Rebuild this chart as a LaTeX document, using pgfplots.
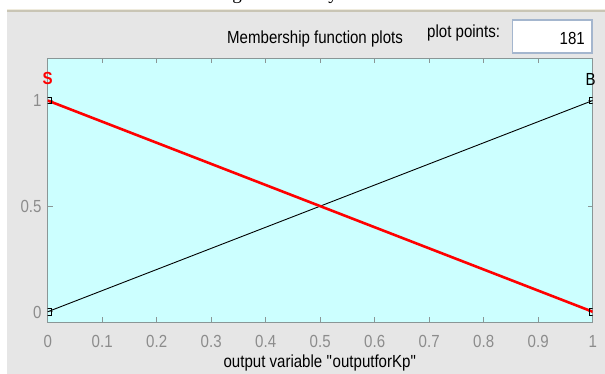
\documentclass[border=0pt]{standalone}
\usepackage{fontspec}
\setmainfont{Liberation Sans}[FakeStretch=0.86]
\newfontfamily\serifcap{Liberation Serif}
\usepackage{pgfplots}
\pgfplotsset{compat=1.18}
\definecolor{panel}{HTML}{E6E6E6}
\definecolor{cyanbg}{HTML}{CCFFFF}
\definecolor{axgray}{HTML}{8A9696}
\definecolor{tickgray}{HTML}{8C8C8C}
\definecolor{boxborder}{HTML}{A4B6CE}
\definecolor{beigeA}{HTML}{EFEBDD}
\definecolor{beigeB}{HTML}{C9C5B5}
\begin{document}
\begin{tikzpicture}[x=1pt,y=1pt]
\useasboundingbox (0,0) rectangle (605,374);
\fill[white] (0,0) rectangle (605,374);
\fill[panel] (7,0) rectangle (605,362);
\fill[beigeB] (7,362) rectangle (605,363.5);
\fill[beigeA] (7,363.5) rectangle (605,365);
\begin{scope}
\clip (0,365) rectangle (605,374);
\node[anchor=base,inner sep=0pt,font=\serifcap\fontsize{19}{20}\selectfont] at (237,374.5) {g};
\node[anchor=base,inner sep=0pt,font=\serifcap\fontsize{19}{20}\selectfont] at (333,374.5) {y};
\end{scope}
\node[anchor=base west,inner sep=0pt,font=\fontsize{17.5}{20}\selectfont] at (227,330) {Membership function plots};
\node[anchor=base west,inner sep=0pt,font=\fontsize{17.5}{20}\selectfont] at (427,336) {plot points:};
\draw[boxborder,line width=1.2pt,fill=white] (512.5,321) rectangle (592,354);
\node[anchor=base east,inner sep=0pt,font=\fontsize{17.5}{20}\selectfont] at (585,329) {181};
\begin{axis}[
  at={(47.7pt,51.7pt)}, anchor=south west,
  scale only axis, width=545pt, height=264pt,
  xmin=0, xmax=1, ymin=-0.05, ymax=1.2,
  axis background/.style={fill=cyanbg},
  axis line style={axgray, line width=1pt},
  xtick={0,0.1,0.2,0.3,0.4,0.5,0.6,0.7,0.8,0.9,1},
  xticklabels={0,0.1,0.2,0.3,0.4,0.5,0.6,0.7,0.8,0.9,1},
  ytick={0,0.5,1},
  yticklabels={0,0.5,1},
  tick align=inside,
  major tick length=5pt,
  tick style={axgray, line width=0.8pt},
  xtick pos=both, ytick pos=both,
  ticklabel style={font=\fontsize{17.5}{20}\selectfont, text=tickgray, inner sep=0pt},
  xticklabel style={anchor=base, yshift=-25pt},
  yticklabel style={anchor=base east, xshift=-6pt, yshift=-6.4pt},
  /pgf/number format/assume math mode=true,
  clip=true, clip marker paths=true,
  xlabel={output variable \textquotedbl outputforKp\textquotedbl},
  xlabel style={font=\fontsize{17.5}{20}\selectfont, anchor=base, at={(axis description cs:0.5,0)}, yshift=-45pt, inner sep=0pt},
]
\addplot[black, line width=0.9pt] coordinates {(0,0) (1,1)};
\addplot[red, line width=2.6pt] coordinates {(0,1) (1,0)};
\addplot[only marks, mark=square, mark size=3.3pt, black, mark options={line width=0.9pt}] coordinates {(0,1) (1,0) (0,0) (1,1)};
\end{axis}
\begin{axis}[
  at={(47.7pt,51.7pt)}, anchor=south west,
  scale only axis, width=545pt, height=264pt,
  xmin=0, xmax=1, ymin=-0.05, ymax=1.2,
  hide axis, clip=false,
]
\node[red, font=\fontsize{17.5}{20}\selectfont\bfseries, inner sep=0pt] at (axis cs:0,1.105) {S};
\node[black, font=\fontsize{17.5}{20}\selectfont, inner sep=0pt, xshift=-2pt] at (axis cs:1,1.1) {B};
\end{axis}
\end{tikzpicture}
\end{document}
